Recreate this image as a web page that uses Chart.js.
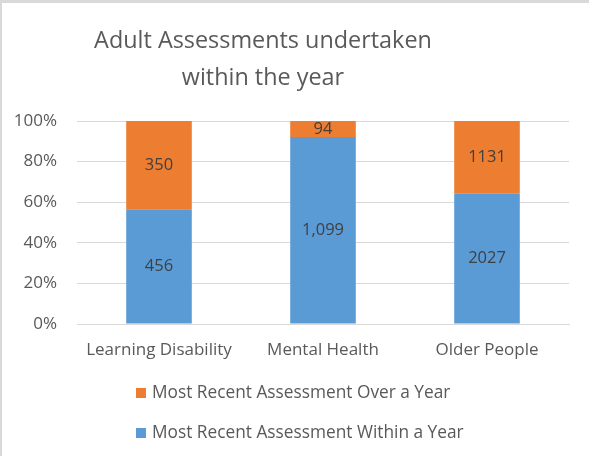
<!DOCTYPE html>
<html>
<head>
<meta charset="utf-8">
<script src="https://cdn.jsdelivr.net/npm/chart.js@4/dist/chart.umd.min.js"></script>
<style>
  html, body { margin: 0; padding: 0; background: #fff; }
  body { width: 589px; height: 456px; overflow: hidden; position: relative; }
  #frame { position: absolute; left: 0; top: 0; width: 589px; height: 456px; box-sizing: border-box; border-top: 3px solid #d9d9d9; border-left: 2px solid #d9d9d9; pointer-events: none; }
  canvas { position: absolute; left: 0; top: 0; }
</style>
</head>
<body>
<canvas id="c" width="589" height="456"></canvas>
<div id="frame"></div>
<script>
const titleLines = ["Adult Assessments undertaken", "within the year"];
const categories = ["Learning Disability", "Mental Health", "Older People"];
const withinYear = [456, 1099, 2027];
const overYear = [350, 94, 1131];
const withinLabels = ["456", "1,099", "2027"];
const overLabels = ["350", "94", "1131"];
const seriesNames = ["Most Recent Assessment Within a Year", "Most Recent Assessment Over a Year"];
const yTicks = ["0%", "20%", "40%", "60%", "80%", "100%"];

const FONT = "'Open Sans', sans-serif";
const totals = withinYear.map((v, i) => v + overYear[i]);
const pctWithin = withinYear.map((v, i) => v / totals[i] * 100);
const pctOver = overYear.map((v, i) => v / totals[i] * 100);

const titlePlugin = {
  id: 'customTitle',
  afterDraw(chart) {
    const ctx = chart.ctx;
    ctx.save();
    ctx.fillStyle = '#595959';
    ctx.font = "23.4px " + FONT;
    ctx.textAlign = 'center';
    ctx.textBaseline = 'alphabetic';
    ctx.fillText(titleLines[0], 263, 48);
    ctx.fillText(titleLines[1], 263, 85);
    ctx.restore();
  }
};

const dataLabelPlugin = {
  id: 'dataLabels',
  afterDatasetsDraw(chart) {
    const ctx = chart.ctx;
    ctx.save();
    ctx.fillStyle = '#404040';
    ctx.font = "16.5px " + FONT;
    ctx.textAlign = 'center';
    ctx.textBaseline = 'middle';
    chart.data.datasets.forEach((ds, di) => {
      const meta = chart.getDatasetMeta(di);
      meta.data.forEach((bar, i) => {
        const y = (bar.y + bar.base) / 2;
        ctx.fillText(ds.valueLabels[i], bar.x, y);
      });
    });
    ctx.restore();
  }
};

const legendPlugin = {
  id: 'customLegend',
  afterDraw(chart) {
    const ctx = chart.ctx;
    const ds = chart.data.datasets;
    const order = [1, 0];
    ctx.save();
    ctx.font = "17.3px " + FONT;
    ctx.textBaseline = 'middle';
    ctx.textAlign = 'left';
    order.forEach((di, k) => {
      const cy = 393 + k * 40;
      ctx.fillStyle = ds[di].backgroundColor;
      ctx.fillRect(136, cy - 5, 10, 10);
      ctx.fillStyle = '#595959';
      ctx.fillText(ds[di].label, 152, cy);
    });
    ctx.restore();
  }
};

new Chart(document.getElementById('c'), {
  type: 'bar',
  data: {
    labels: categories,
    datasets: [
      { label: seriesNames[0], data: pctWithin, valueLabels: withinLabels, backgroundColor: '#5B9BD5', borderWidth: 0 },
      { label: seriesNames[1], data: pctOver, valueLabels: overLabels, backgroundColor: '#ED7D31', borderWidth: 0 }
    ]
  },
  options: {
    responsive: false,
    animation: false,
    events: [],
    layout: { padding: { top: 121, right: 20, bottom: 0, left: 0 } },
    plugins: { legend: { display: false }, title: { display: false }, tooltip: { enabled: false } },
    datasets: { bar: { categoryPercentage: 1.0, barPercentage: 0.4 } },
    scales: {
      x: {
        stacked: true,
        grid: { display: false, drawTicks: false },
        border: { display: true, color: '#d9d9d9' },
        ticks: { color: '#595959', font: { family: FONT, size: 17 }, padding: 16, maxRotation: 0 },
        afterFit(scale) { scale.height = 132; }
      },
      y: {
        stacked: true,
        min: 0, max: 100,
        grid: { color: '#d9d9d9', drawTicks: false },
        border: { display: false },
        ticks: {
          stepSize: 20,
          color: '#595959',
          font: { family: FONT, size: 17 },
          padding: 20,
          callback: (v) => yTicks[Math.round(v / 20)]
        },
        afterFit(scale) { scale.width = 77; }
      }
    }
  },
  plugins: [titlePlugin, dataLabelPlugin, legendPlugin]
});
</script>
</body>
</html>
